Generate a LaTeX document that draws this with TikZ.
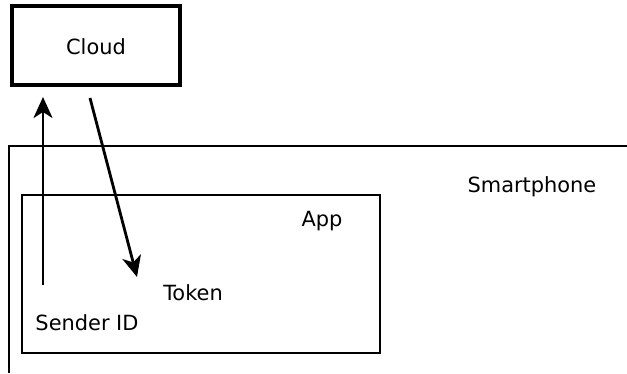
\documentclass[tikz,border=0pt]{standalone}
\usepackage{fontspec}
\setmainfont{DejaVu Sans}
\usepackage{tikz}
\usetikzlibrary{positioning, shapes}
\usetikzlibrary{arrows.meta}

\begin{document}
\begin{tikzpicture}[x=0.02cm,y=-0.02cm]
            \tikzset{box/.style = {draw, line width=1.6pt, minimum width=7.16cm, minimum height=3.16cm}}
            \tikzset{lbl/.style = {font=\fontsize{11.9}{14}\selectfont, inner sep=0pt}}
            \tikzset{flow/.style = {line width=1.6pt, -{Stealth[length=0.42cm, width=0.38cm, inset=0.12cm]}}}

            \useasboundingbox (0,0) rectangle (627,373);

            \node[draw, line width=1.8pt, minimum width=3.36cm, minimum height=1.58cm] (cloud) at (96,45.5) {};
            \node[lbl] (cloudtxt) at (96,47) {Cloud};

            % smartphone frame, open to the right and below
            \draw[line width=1.6pt] (627,146) -| (9,373);
            \node[lbl] (phone) at (532,187) {Smartphone};

            \node[box] (app) at (201,274) {};
            \node[lbl] (apptxt) at (322,221) {App};
            \node[lbl] (token) at (193,293) {Token};
            \node[lbl] (sender) at (87,323) {Sender ID};

            % arrows
            \coordinate (up0) at (43,285);
            \coordinate (up1) at (43,97);
            \coordinate (down0) at (90,98);
            \coordinate (down1) at (137,277);
            \draw[flow] (up0) -- (up1);
            \draw[flow] (down0) -- (down1);

\end{tikzpicture}
\end{document}
